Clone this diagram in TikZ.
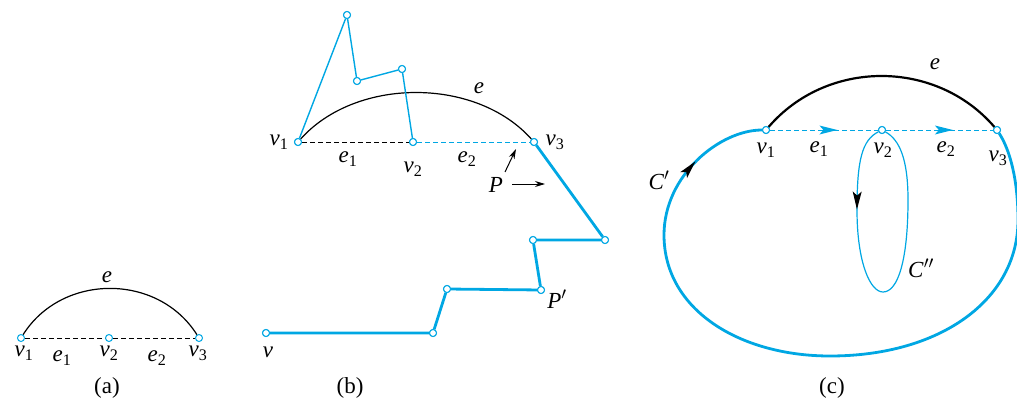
\documentclass[tikz,border=0pt]{standalone}
\usepackage{fontspec}
\setmainfont{Liberation Serif}
\usetikzlibrary{arrows.meta,decorations.markings}
\definecolor{cy}{RGB}{0,167,227}
\newcommand{\vv}[1]{\textit{v}\textsubscript{#1}}
\newcommand{\ee}[1]{\textit{e}\textsubscript{#1}}
\tikzset{
  vtx/.style={circle,draw=cy,fill=white,line width=1pt,minimum size=7pt,inner sep=0pt},
  lab/.style={font=\fontsize{23}{26}\selectfont,inner sep=0pt},
  thinblue/.style={draw=cy,line width=1.4pt},
  thickblue/.style={draw=cy,line width=2.8pt},
  blackarc/.style={draw=black,line width=1.2pt},
  blackdash/.style={draw=black,line width=1pt,dash pattern=on 5pt off 3pt},
  bluedash/.style={draw=cy,line width=1pt,dash pattern=on 5pt off 3pt},
  ptr/.style={-{Stealth[length=10pt,width=6pt]},line width=1pt},
  headat/.style 2 args={postaction={decorate},decoration={markings,
     mark=at position #1 with {\fill[#2] (-10pt,-4.5pt) -- (8pt,0pt) -- (-10pt,4.5pt) -- (-6pt,0pt) -- cycle;}}},
}
\begin{document}
\begin{tikzpicture}[x=1pt,y=-1pt]
\useasboundingbox (0,0) rectangle (1017,404);
% ---------- (a)
\node[vtx] (a1) at (21,338) {};
\node[vtx] (a2) at (109,338) {};
\node[vtx] (a3) at (199,338) {};
\draw[blackdash] (a1) -- (a2);
\draw[blackdash] (a2) -- (a3);
\draw[blackarc] (a1) .. controls (62,273) and (158,273) .. (a3);
\node[lab] at (107,277) {\textit{e}};
\node[lab] at (24,353) {\vv{1}};
\node[lab] at (109,353) {\vv{2}};
\node[lab] at (198,353) {\vv{3}};
\node[lab] at (62,358) {\ee{1}};
\node[lab] at (157,358) {\ee{2}};
\node[lab] at (107,388) {(a)};
% ---------- (b)
\node[vtx] (b1) at (298,142) {};
\node[vtx] (b2) at (413,142) {};
\node[vtx] (b3) at (534,142) {};
\node[vtx] (p1) at (347,15) {};
\node[vtx] (p2) at (357,81) {};
\node[vtx] (p3) at (402,69) {};
\node[vtx] (q1) at (605,240) {};
\node[vtx] (q2) at (533,240) {};
\node[vtx] (q3) at (541,290) {};
\node[vtx] (q4) at (447,289) {};
\node[vtx] (q5) at (433,333) {};
\node[vtx] (q6) at (266,333) {};
\draw[blackarc] (b1) .. controls (356,77) and (476,77) .. (b3);
\draw[blackdash] (b1) -- (b2);
\draw[bluedash] (b2) -- (b3);
\draw[thinblue] (b1) -- (p1) -- (p2) -- (p3) -- (b2);
\draw[thickblue] (b3) -- (q1) -- (q2) -- (q3) -- (q4) -- (q5) -- (q6);
\foreach \n in {b1,b2,b3,p1,p2,p3,q1,q2,q3,q4,q5,q6} \node[vtx] at (\n) {};
\node[lab] at (479,88) {\textit{e}};
\node[lab] at (279,142) {\vv{1}};
\node[lab] at (348,159) {\ee{1}};
\node[lab] at (413,169) {\vv{2}};
\node[lab] at (467,159) {\ee{2}};
\node[lab] at (555,142) {\vv{3}};
\node[lab] (P) at (496,185) {\textit{P}};
\coordinate (Pa) at (516,149);
\coordinate (Pb) at (545,184);
\draw[ptr] (505,172) -- (Pa);
\draw[ptr] (512,184) -- (Pb);
\node[lab] at (557,299) {\textit{P}$'$};
\node[lab] at (268,352) {\textit{v}};
\node[lab] at (350,388) {(b)};
% ---------- (c)
\node[vtx] (c1) at (766,130) {};
\node[vtx] (c2) at (882,130) {};
\node[vtx] (c3) at (997,130) {};
\coordinate (cl) at (664,235);
\draw[line width=2.2pt] (c1) .. controls (827,59) and (936,59) .. (c3);
\draw[thickblue] (cl) .. controls (664,310) and (740,356) .. (830,356)
   .. controls (940,356) and (1018,300) .. (1018,220)
   .. controls (1018,180) and (1010,150) .. (c3);
\draw[thickblue,headat={0.47}{black}]
   (cl) .. controls (664,175) and (720,130) .. (c1);
\draw[cy,line width=1.2pt,headat={0.9}{black}]
   (c2) .. controls (862,140) and (857,160) .. (857,210);
\draw[cy,line width=1.2pt] (857,210) .. controls (857,262) and (870,292) .. (883,292)
   .. controls (898,292) and (908,260) .. (908,200)
   .. controls (908,160) and (900,140) .. (c2);
\draw[bluedash,headat={0.55}{cy}] (c1) -- (c2);
\draw[bluedash,headat={0.55}{cy}] (c2) -- (c3);
\foreach \n in {c1,c2,c3} \node[vtx] at (\n) {};
\node[lab] at (935,64) {\textit{e}};
\node[lab] at (766,150) {\vv{1}};
\node[lab] at (819,149) {\ee{1}};
\node[lab] at (883,150) {\vv{2}};
\node[lab] at (946,149) {\ee{2}};
\node[lab] at (998,158) {\vv{3}};
\node[lab] at (659,180) {\textit{C}$'$};
\node[lab] at (921,268) {\textit{C}$''$};
\node[lab] at (832,388) {(c)};
\end{tikzpicture}
\end{document}
